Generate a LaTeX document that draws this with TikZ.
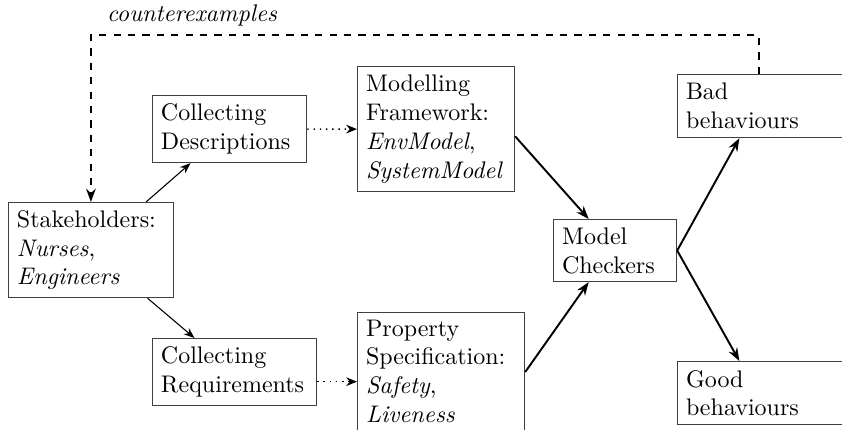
\documentclass[tikz,border=0pt]{standalone}
\usetikzlibrary{arrows.meta,calc}
\begin{document}
\begin{tikzpicture}[x=0.41667pt,y=-0.41667pt,
  box/.style={draw=black!75, line width=0.5pt, align=left, anchor=north west,
              inner xsep=3.5pt, inner ysep=3pt},
  thinarrow/.style={-{Stealth[length=4.5pt,width=3.4pt]}, line width=0.45pt},
  dotarrow/.style={dotted, semithick, -{Stealth[length=4.5pt,width=3.6pt]}},
  mainarrow/.style={thick, -{Stealth[length=5.5pt,width=4pt]}},
  feedback/.style={dashed, thick, -{Stealth[length=5.5pt,width=4pt]}}]
\useasboundingbox (0,0) rectangle (842,430);

% boxes
\node[box, text width=61.6pt, minimum height=39.6pt] (stake) at (8,202)
  {Stakeholders:\\ \textit{Nurses},\\ \textit{Engineers}};
\node[box, text width=57.2pt, minimum height=27.9pt] (desc) at (152,95)
  {Collecting\\ Descriptions};
\node[box, text width=58.4pt, minimum height=52.1pt] (model) at (357,66)
  {Modelling\\ Framework:\\ \textit{EnvModel},\\ \textit{SystemModel}};
\node[box, text width=61.3pt, minimum height=27.9pt] (req) at (152,338)
  {Collecting\\ Requirements};
\node[box, text width=62.6pt] (prop) at (357,312)
  {Property\\ Specification:\\ \textit{Safety},\\ \textit{Liveness}\rule[-3pt]{0pt}{3pt}};
\node[box, text width=44.25pt, minimum height=25.8pt] (checker) at (553,219)
  {Model\\ Checkers};
\node[box, text width=70pt, minimum height=26.25pt] (bad) at (677,74)
  {Bad\\ behaviours};
\node[box, text width=70pt, minimum height=26.25pt] (good) at (677,361)
  {Good\\ behaviours};

% stakeholders feed both collection steps
\draw[thinarrow] (stake) -- (desc);
\draw[thinarrow] (stake) -- (req);

% collected material into the formal artefacts
\draw[dotarrow] (desc) -- (model);
\draw[dotarrow] ([yshift=-4pt]req.east) -- ([yshift=-4pt]req.east -| prop.west);

% artefacts into the model checkers
\draw[mainarrow] ([yshift=-3pt]model.east) -- ([xshift=-11pt]checker.north);
\draw[mainarrow] ([yshift=-25pt]prop.north east) -- ([xshift=-11pt]checker.south);

% verdicts
\draw[mainarrow] (checker.east) -- ([xshift=26pt]bad.south west);
\draw[mainarrow] (checker.east) -- ([xshift=26pt]good.north west);

% counterexample feedback loop
\coordinate (loop) at (0,35);
\draw[feedback] ([xshift=34pt]bad.north west) |- (stake.north |- loop) -- (stake.north);
\node[font=\itshape, inner sep=0pt] (cex) at (192,15) {counterexamples};
\end{tikzpicture}
\end{document}
